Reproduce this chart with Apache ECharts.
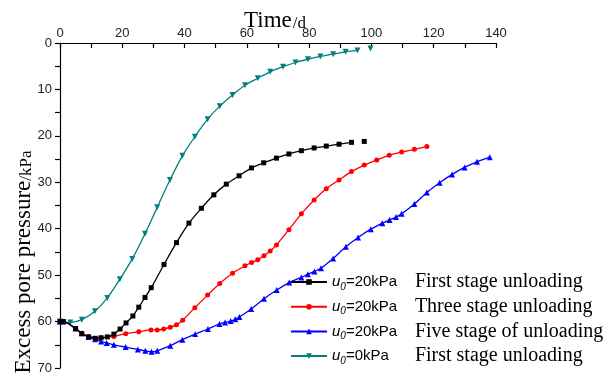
<!DOCTYPE html>
<html><head><meta charset="utf-8">
<script src="https://cdn.jsdelivr.net/npm/echarts@6/dist/echarts.min.js"></script>
<style>html,body{margin:0;padding:0;background:#fff}#c{width:612px;height:375px}</style>
</head><body><div id="c"></div>
<script>
// ---- data (time in days, excess pore pressure in kPa) ----
const uValues = ['20', '20', '20', '0'];
const stageLabels = ['First stage unloading', 'Three stage unloading', 'Five stage of unloading', 'First stage unloading'];
const seriesColors = ['#000000', '#ff0000', '#0000ff', '#008080'];

const firstStage20 = [[0,60],[1.1,60],[5,61.5],[7,62.6],[9.2,63.3],[11.3,63.6],[13.2,63.5],[15.2,63.3],[17.3,62.7],[19.3,61.6],[21.2,60.3],[23.4,58.8],[25.3,56.9],[27.3,54.8],[29.3,52.7],[33.4,47.7],[37.4,43.0],[41.4,38.8],[45.4,35.6],[49.4,32.7],[53.4,30.4],[57.5,28.6],[61.5,26.9],[65.4,25.8],[69.5,24.8],[73.5,23.9],[77.5,23.2],[81.6,22.6],[85.5,22.2],[89.6,21.8],[93.6,21.4],[95.8,'-'],[97.7,21.2]];
const threeStage20 = [[0,60],[1.1,60],[5,61.5],[7,62.6],[9.2,63.2],[13.1,63.5],[17.3,63.2],[21.1,62.6],[25.3,62.2],[29.2,61.8],[31.2,61.8],[33.3,61.6],[35.4,61.2],[37.4,60.7],[39.4,59.7],[43.3,57.0],[47.4,54.3],[51.3,51.8],[55.4,49.6],[59.4,48.0],[61.5,47.3],[63.5,46.7],[65.5,45.8],[67.5,44.8],[69.5,43.5],[73.5,40.2],[77.5,36.8],[81.6,33.8],[85.5,31.4],[89.6,29.5],[93.6,27.7],[97.7,26.3],[101.7,25.2],[105.7,24.2],[109.7,23.5],[113.8,22.9],[117.8,22.3]];
const fiveStage20 = [[0,60],[1.1,60],[5,61.5],[7,62.5],[9.2,63.3],[11.3,63.8],[13.2,64.3],[15,64.6],[17.3,65.0],[21.1,65.5],[25,66.0],[27.4,66.3],[29.4,66.5],[31.2,66.3],[35.4,65.2],[39.3,63.9],[43.4,62.7],[47.5,61.6],[51.2,60.5],[53,60.2],[54.8,59.9],[56.3,59.5],[57.6,59.0],[61.4,57.3],[65.5,55.1],[69.6,53.2],[73.6,51.6],[77.5,50.5],[79.6,49.8],[81.7,49.2],[83.8,48.5],[87.7,46.4],[91.8,43.9],[95.7,41.9],[99.8,40.1],[103.5,38.8],[105.8,38.1],[107.9,37.5],[109.7,36.8],[113.8,34.7],[117.8,32.2],[121.9,30.1],[125.9,28.3],[129.9,26.8],[133.9,25.6],[138,24.6]];
const firstStage0 = [[0,60],[3.3,60.2],[7,59.6],[11.2,57.8],[15.2,54.9],[19.2,50.9],[23.2,46.5],[27.3,41.1],[31.2,35.4],[35.3,29.5],[39.3,24.3],[43.3,20.2],[47.4,16.4],[51.3,13.6],[55.4,11.2],[59.4,9.1],[63.5,7.6],[67.5,6.2],[71.6,5.1],[75.6,4.2],[79.6,3.5],[83.6,2.9],[87.7,2.4],[91.7,1.9],[95.5,1.6],[97.5,'-'],[99.7,1.2]];
const allData = [firstStage20, threeStage20, fiveStage20, firstStage0];
const symbols = ['rect', 'circle', 'triangle', 'path://M0,0 L10,0 L5,9 Z'];
const symbolSizes = [5, 5, 6, 6];

const seriesNames = uValues.map((u, i) => 'u0=' + u + 'kPa ' + stageLabels[i]);

const SERIF = "'Liberation Serif','Times New Roman',serif";
const SANS = "'Liberation Sans',Arial,sans-serif";

const chart = echarts.init(document.getElementById('c'), null, {renderer: 'canvas'});
chart.setOption({
  animation: false,
  backgroundColor: '#ffffff',
  title: {
    text: '{a|Time}{b|/d}',
    left: 239, top: -4,
    textStyle: {
      fontWeight: 'normal',
      rich: {
        a: {fontFamily: SERIF, fontSize: 23, fontWeight: 'normal', color: '#000', verticalAlign: 'bottom', lineHeight: 26},
        b: {fontFamily: SERIF, fontSize: 17, fontWeight: 'normal', color: '#000', verticalAlign: 'bottom', lineHeight: 31, padding: [0,0,0,1]}
      }
    }
  },
  graphic: [{
    type: 'text',
    x: 20, y: 262,
    rotation: Math.PI / 2,
    style: {
      text: '{a|Excess pore pressure}{b|/kPa}',
      align: 'center', verticalAlign: 'middle',
      rich: {
        a: {fontFamily: SERIF, fontSize: 23, fill: '#000', verticalAlign: 'bottom', lineHeight: 26},
        b: {fontFamily: SERIF, fontSize: 17, fill: '#000', verticalAlign: 'bottom', lineHeight: 31}
      }
    }
  }],
  legend: {
    orient: 'vertical',
    left: 290, top: 272,
    padding: 0,
    itemWidth: 36, itemHeight: 7,
    itemGap: 4.7,
    data: seriesNames,
    formatter: function (name) {
      const i = seriesNames.indexOf(name);
      return '{u|u}{s|0}{e|=' + uValues[i] + 'kPa}{t|' + stageLabels[i] + '}';
    },
    textStyle: {
      rich: {
        u: {fontFamily: SANS, fontSize: 15, fontStyle: 'italic', color: '#000', lineHeight: 20},
        s: {fontFamily: SANS, fontSize: 10, fontStyle: 'italic', color: '#000', lineHeight: 11, verticalAlign: 'bottom'},
        e: {fontFamily: SANS, fontSize: 15, color: '#000', lineHeight: 20, width: 69},
        t: {fontFamily: SERIF, fontSize: 20, color: '#000', lineHeight: 20}
      }
    }
  },
  grid: {left: 60, right: 116, top: 43, bottom: 7, containLabel: false},
  xAxis: {
    type: 'value', position: 'top',
    min: 0, max: 140, interval: 20,
    axisLine: {show: true, lineStyle: {color: '#000', width: 1.2}},
    axisTick: {show: true, inside: true, length: 5, lineStyle: {color: '#000', width: 1.2}},
    minorTick: {show: true, splitNumber: 2, length: 5, lineStyle: {color: '#000', width: 1.2}},
    axisLabel: {fontFamily: SANS, fontSize: 13, color: '#222', margin: 3},
    splitLine: {show: false}
  },
  yAxis: {
    type: 'value', inverse: true,
    min: 0, max: 70, interval: 10,
    axisLine: {show: true, lineStyle: {color: '#000', width: 1.2}},
    axisTick: {show: true, inside: false, length: 5, lineStyle: {color: '#000', width: 1.2}},
    minorTick: {show: true, splitNumber: 2, length: 5, lineStyle: {color: '#000', width: 1.2}},
    axisLabel: {fontFamily: SANS, fontSize: 13, color: '#222', margin: 8},
    splitLine: {show: false}
  },
  series: allData.map((d, i) => ({
    name: seriesNames[i],
    type: 'line',
    data: d,
    smooth: 0.3,
    connectNulls: false,
    symbol: symbols[i],
    symbolSize: symbolSizes[i],
    showAllSymbol: true,
    color: seriesColors[i],
    itemStyle: {color: seriesColors[i]},
    lineStyle: {color: seriesColors[i], width: 1.3},
    z: 4 - i
  }))
});
</script></body></html>
